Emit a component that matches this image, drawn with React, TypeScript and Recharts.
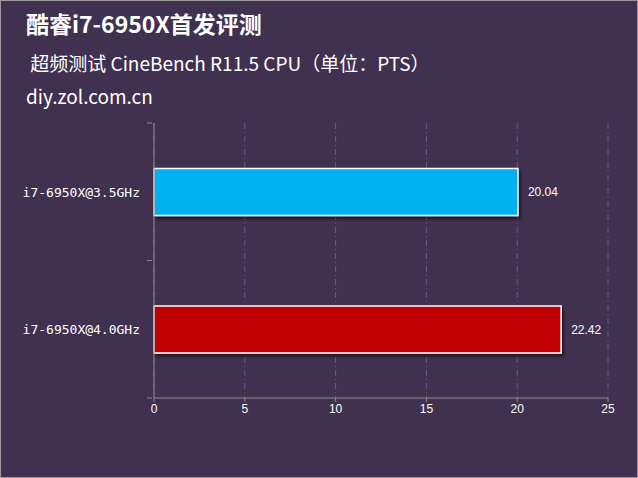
import { Bar, BarChart, CartesianGrid, Cell, LabelList, XAxis, YAxis } from "recharts";

const categories = ["i7-6950X@3.5GHz", "i7-6950X@4.0GHz"];
const scores = [20.04, 22.42];
const barColors = ["#00b0f0", "#c00000"];
const xTicks = [0, 5, 10, 15, 20, 25];

const data = categories.map((name, i) => ({ name, value: scores[i] }));

function CategoryTick(props: any) {
  const { x, y, payload, index } = props;
  const half = payload.offset ?? 0;
  return <g>
    <line x1={x + 1} x2={x + 6} y1={y - half} y2={y - half} stroke="#8c8c8c" />
    {index === categories.length - 1 && <line x1={x + 1} x2={x + 6} y1={y + half} y2={y + half} stroke="#8c8c8c" />}
    <text x={x - 6} y={y} dy={5} textAnchor="end" fill="#ffffff" fontSize={13} fontFamily="'DejaVu Sans Mono', monospace">{payload.value}</text>
  </g>;
}

export default function App() {
  return <div style={{ position: "absolute", left: 0, top: 0, width: 636, height: 476, background: "#413150", border: "1px solid #9a9a9a", overflow: "hidden" }}>
    <div style={{ position: "absolute", left: 25, top: 7, color: "#fff", fontFamily: "'Noto Sans CJK SC', sans-serif", fontWeight: 700, fontSize: 23, lineHeight: "30px" }}>酷睿i7-6950X首发评测</div>
    <div style={{ position: "absolute", left: 25, top: 49, color: "#fff", fontFamily: "'Noto Sans CJK SC', sans-serif", fontSize: 19, lineHeight: "26px", whiteSpace: "pre" }}> 超频测试 CineBench R11.5 CPU（单位：PTS）</div>
    <div style={{ position: "absolute", left: 25, top: 82, color: "#fff", fontFamily: "'Noto Sans CJK SC', sans-serif", fontSize: 19, lineHeight: "26px" }}>diy.zol.com.cn</div>
    <div style={{ position: "absolute", left: -1, top: -1 }}>
      <BarChart width={638} height={478} data={data} layout="vertical" barCategoryGap="33%" margin={{ top: 123, right: 30, bottom: 50, left: 14 }}>
        <defs>
          <filter id="barShadow" x="-5%" y="-20%" width="115%" height="160%">
            <feDropShadow dx={2} dy={3} stdDeviation={1.5} floodColor="#000" floodOpacity={0.55} />
          </filter>
        </defs>
        <CartesianGrid horizontal={false} stroke="#6a5886" strokeDasharray="6 3 1 3" />
        <XAxis type="number" domain={[0, 25]} ticks={xTicks} height={30} stroke="#8c8c8c" tickSize={4}
          tick={{ fill: "#ffffff", fontSize: 12, fontFamily: "Arial, 'Liberation Sans', sans-serif" }} />
        <YAxis type="category" dataKey="name" width={140} stroke="#8c8c8c" tickLine={false} tick={<CategoryTick />} />
        <Bar dataKey="value" stroke="#ffffff" strokeWidth={1.5} isAnimationActive={false} filter="url(#barShadow)">
          {data.map((d, i) => <Cell key={d.name} fill={barColors[i]} />)}
          <LabelList dataKey="value" position="right" offset={10} fill="#ffffff" fontSize={12} fontFamily="Arial, 'Liberation Sans', sans-serif" />
        </Bar>
      </BarChart>
    </div>
  </div>;
}
